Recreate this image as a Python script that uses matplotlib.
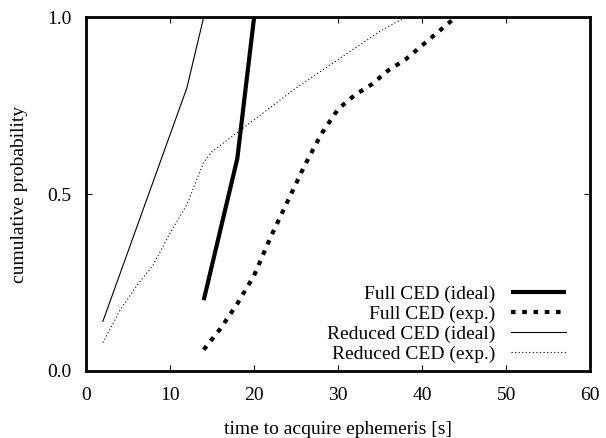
import matplotlib
matplotlib.use("Agg")
import matplotlib.pyplot as plt

plt.rcParams['font.family'] = ['Liberation Serif', 'DejaVu Serif']
plt.rcParams['font.size'] = 14

# Full CED (ideal)
full_ideal_t = [14, 18, 20]
full_ideal_p = [0.20, 0.60, 1.00]

# Full CED (exp.)
full_exp_t = [14, 16, 18, 20, 22, 24, 26, 28, 30, 32, 34, 36, 38, 40, 42, 44]
full_exp_p = [0.06, 0.12, 0.19, 0.27, 0.38, 0.48, 0.58, 0.67, 0.74, 0.78,
              0.81, 0.85, 0.88, 0.92, 0.96, 1.00]

# Reduced CED (ideal)
red_ideal_t = [2, 12, 14]
red_ideal_p = [0.14, 0.80, 1.00]

# Reduced CED (exp.)
red_exp_t = [2, 4, 6, 8, 10, 12, 14, 15, 20, 25, 30, 35, 38]
red_exp_p = [0.08, 0.17, 0.24, 0.30, 0.39, 0.47, 0.59, 0.62, 0.71, 0.80,
             0.88, 0.96, 1.00]

labels = ["Full CED (ideal)", "Full CED (exp.)",
          "Reduced CED (ideal)", "Reduced CED (exp.)"]

x_ticks = [0, 10, 20, 30, 40, 50, 60]
y_ticks = [0.0, 0.5, 1.0]

fig = plt.figure(figsize=(6.06, 4.38), dpi=100)
ax = fig.add_axes([0.142, 0.153, 0.832, 0.808])

ax.plot(full_ideal_t, full_ideal_p, color='black', lw=3.0,
        solid_capstyle='butt', label=labels[0])
ax.plot(full_exp_t, full_exp_p, color='black', lw=3.0,
        linestyle=(0, (1.1, 1.6)), dash_capstyle='butt', label=labels[1])
ax.plot(red_ideal_t, red_ideal_p, color='black', lw=0.8, label=labels[2])
ax.plot(red_exp_t, red_exp_p, color='black', lw=0.8,
        linestyle=(0, (1.0, 2.2)), label=labels[3])

ax.set_xlim(0, 60)
ax.set_ylim(0, 1)
ax.set_xticks(x_ticks)
ax.set_yticks(y_ticks)
ax.set_yticklabels([f"{v:.1f}" for v in y_ticks])
ax.tick_params(direction='in', top=True, right=True, length=4, width=0.8,
               labelsize=14)
ax.tick_params(axis='x', pad=11.5)
ax.tick_params(axis='y', pad=10.5)
for s in ax.spines.values():
    s.set_linewidth(2.0)

ax.set_xlabel("time to acquire ephemeris [s]", fontsize=14, labelpad=12.5)
ax.set_ylabel("cumulative probability", fontsize=14, labelpad=13.5)

leg = ax.legend(loc='lower right', frameon=False, markerfirst=False,
                fontsize=14, handlelength=2.86, handletextpad=0.8,
                labelspacing=0.13, borderaxespad=0.0,
                bbox_to_anchor=(0.968, 0.0))

fig.savefig("out.png", dpi=100)
